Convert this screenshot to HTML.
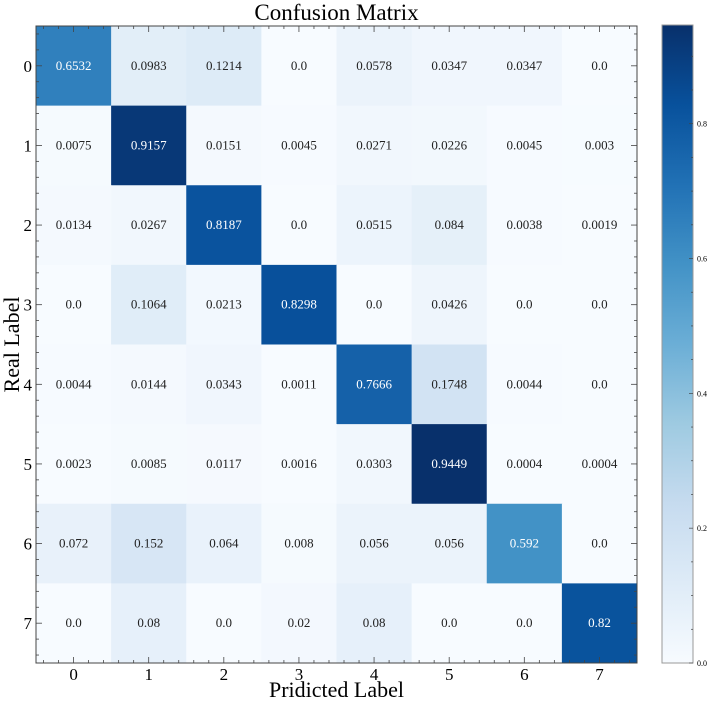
<!DOCTYPE html>
<html><head><meta charset="utf-8"><style>
html,body{margin:0;padding:0;background:#fff;}
svg{display:block;font-family:"Liberation Serif",serif;}
</style></head><body>
<svg id="chart" width="708" height="703" viewBox="0 0 708 703"></svg>
<script>
const categories = ["0","1","2","3","4","5","6","7"];
const matrixValues = [
 [0.6532,0.0983,0.1214,0.0,0.0578,0.0347,0.0347,0.0],
 [0.0075,0.9157,0.0151,0.0045,0.0271,0.0226,0.0045,0.003],
 [0.0134,0.0267,0.8187,0.0,0.0515,0.084,0.0038,0.0019],
 [0.0,0.1064,0.0213,0.8298,0.0,0.0426,0.0,0.0],
 [0.0044,0.0144,0.0343,0.0011,0.7666,0.1748,0.0044,0.0],
 [0.0023,0.0085,0.0117,0.0016,0.0303,0.9449,0.0004,0.0004],
 [0.072,0.152,0.064,0.008,0.056,0.056,0.592,0.0],
 [0.0,0.08,0.0,0.02,0.08,0.0,0.0,0.82]
];
const cellLabels = [
 ["0.6532","0.0983","0.1214","0.0","0.0578","0.0347","0.0347","0.0"],
 ["0.0075","0.9157","0.0151","0.0045","0.0271","0.0226","0.0045","0.003"],
 ["0.0134","0.0267","0.8187","0.0","0.0515","0.084","0.0038","0.0019"],
 ["0.0","0.1064","0.0213","0.8298","0.0","0.0426","0.0","0.0"],
 ["0.0044","0.0144","0.0343","0.0011","0.7666","0.1748","0.0044","0.0"],
 ["0.0023","0.0085","0.0117","0.0016","0.0303","0.9449","0.0004","0.0004"],
 ["0.072","0.152","0.064","0.008","0.056","0.056","0.592","0.0"],
 ["0.0","0.08","0.0","0.02","0.08","0.0","0.0","0.82"]
];
const colorbarTicks = [0.0,0.2,0.4,0.6,0.8];
const colorbarTickLabels = ["0.0","0.2","0.4","0.6","0.8"];

const NS="http://www.w3.org/2000/svg";
const svg=document.getElementById('chart');
function mk(tag,attrs,parent){const e=document.createElementNS(NS,tag);for(const k in attrs)e.setAttribute(k,attrs[k]);(parent||svg).appendChild(e);return e;}
const L=36,R=637,T=26,B=663;
const n=categories.length;
const cw=(R-L)/n, ch=(B-T)/n;
let vmax=0;matrixValues.forEach(r=>r.forEach(v=>{if(v>vmax)vmax=v;}));
const vmin=0;
const xS=i=>L+(i+0.5)*cw, yS=i=>T+(i+0.5)*ch;
const stops=["#f7fbff","#deebf7","#c6dbef","#9ecae1","#6baed6","#4292c6","#2171b5","#08519c","#08306b"];
function hx(c){return [1,3,5].map(i=>parseInt(c.substr(i,2),16));}
function cmap(t){t=Math.max(0,Math.min(1,t));const p=t*(stops.length-1);const i=Math.min(Math.floor(p),stops.length-2);const f=p-i;const a=hx(stops[i]),b=hx(stops[i+1]);return `rgb(${a.map((v,k)=>Math.round(v+(b[k]-v)*f)).join(',')})`;}
const norm=v=>(v-vmin)/(vmax-vmin);

const title=mk('text',{x:(L+R)/2,y:20,'text-anchor':'middle','font-size':23,fill:'#000'});
title.textContent='Confusion Matrix';



const cells=mk('g',{});


matrixValues.forEach((row,r)=>row.forEach((v,c)=>{
 const rect=mk('rect',{x:L+c*cw,y:T+r*ch,width:cw+0.5,height:ch+0.5,fill:cmap(norm(v))},cells);
 
 
 const t=mk('text',{x:xS(c),y:yS(r)+4,'text-anchor':'middle','font-size':13,fill:v>vmax/2?'#fff':'#222'},cells);
 t.textContent=cellLabels[r][c];
 
 
}));

const frame=mk('rect',{x:L,y:T,width:R-L,height:B-T,fill:'none',stroke:'#444','stroke-width':1});



const ticks=mk('g',{stroke:'#444','stroke-width':0.8});


for(let k=-0.4;k<n-0.5;k+=0.2){
 const major=Math.abs(k-Math.round(k))<0.01;
 const len=major?6:3;
 const x=L+(k+0.5)*cw, y=T+(k+0.5)*ch;
 mk('line',{x1:x,y1:B,x2:x,y2:B-len},ticks);
 mk('line',{x1:x,y1:T,x2:x,y2:T+len},ticks);
 mk('line',{x1:L,y1:y,x2:L+len,y2:y},ticks);
 mk('line',{x1:R,y1:y,x2:R-len,y2:y},ticks);
}
categories.forEach((c,i)=>{
 const tx=mk('text',{x:xS(i),y:B+17,'text-anchor':'middle','font-size':17,fill:'#000'});
 tx.textContent=c;
 
 
 const ty=mk('text',{x:L-4,y:yS(i)+6,'text-anchor':'end','font-size':17,fill:'#000'});
 ty.textContent=c;
 
 
});
const xl=mk('text',{x:(L+R)/2,y:697,'text-anchor':'middle','font-size':22,fill:'#000'});
xl.textContent='Pridicted Label';


const yl=mk('text',{x:0,y:0,'text-anchor':'middle','font-size':22,fill:'#000',transform:`translate(19,${(T+B)/2}) rotate(-90)`});
yl.textContent='Real Label';



const CL=662,CR=693;
const cb=mk('g',{});


const defs=mk('defs',{});
const grad=mk('linearGradient',{id:'cbg',x1:0,y1:1,x2:0,y2:0},defs);
stops.forEach((s,i)=>mk('stop',{offset:i/(stops.length-1),'stop-color':s},grad));
mk('rect',{x:CL,y:T-1,width:CR-CL,height:B-T+1,fill:'url(#cbg)',stroke:'#999','stroke-width':1},cb);
const cy=v=>B-norm(v)*(B-T);
for(let v=0;v<=vmax+1e-9;v+=0.05){
 const major=Math.abs(v*5-Math.round(v*5))<0.001;
 mk('line',{x1:CR,y1:cy(v),x2:CR-(major?4:2),y2:cy(v),stroke:'#444','stroke-width':0.7},cb);
}
colorbarTicks.forEach((v,i)=>{
 const t=mk('text',{x:CR+4,y:cy(v)+3,'font-size':8,fill:'#000'},cb);
 t.textContent=colorbarTickLabels[i];
 
 
});
</script>
</body></html>
